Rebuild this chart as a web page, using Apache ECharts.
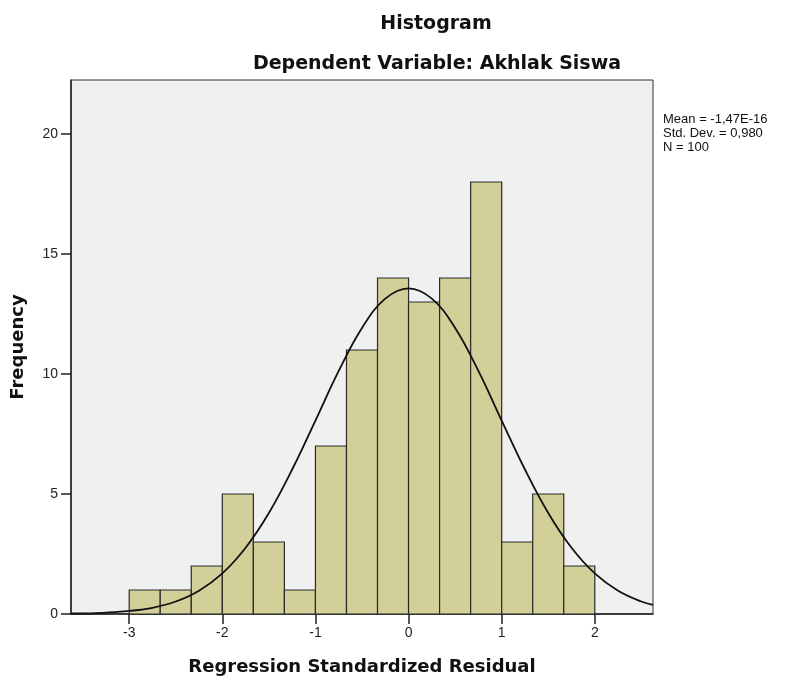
<!DOCTYPE html>
<html>
<head>
<meta charset="utf-8">
<script src="https://cdn.jsdelivr.net/npm/echarts@6/dist/echarts.min.js"></script>
<style>
  html, body { margin: 0; padding: 0; background: #fff; }
  #chart { width: 787px; height: 684px; }
</style>
</head>
<body>
<div id="chart"></div>
<script>
// histogram bins (width 1/3) and counts
var binStarts = [-3, -2.6667, -2.3333, -2, -1.6667, -1.3333, -1, -0.6667, -0.3333, 0, 0.3333, 0.6667, 1, 1.3333, 1.6667];
var binEnds = [-2.6667, -2.3333, -2, -1.6667, -1.3333, -1, -0.6667, -0.3333, 0, 0.3333, 0.6667, 1, 1.3333, 1.6667, 2];
var counts = [1, 1, 2, 5, 3, 1, 7, 11, 14, 13, 14, 18, 3, 5, 2];

// normal curve
var curveX = [-3.625, -3.5, -3.25, -3, -2.75, -2.5, -2.25, -2, -1.75, -1.5, -1.25, -1, -0.75, -0.5, -0.25, 0,
              0.25, 0.5, 0.75, 1, 1.25, 1.5, 1.75, 2, 2.25, 2.5, 2.625];
var curveY = [0.02, 0.02, 0.06, 0.13, 0.26, 0.52, 0.97, 1.69, 2.76, 4.21, 6.02, 8.06, 10.13, 11.92, 13.14, 13.57,
              13.14, 11.92, 10.13, 8.06, 6.02, 4.21, 2.76, 1.69, 0.97, 0.52, 0.38];

var xTicks = [-3, -2, -1, 0, 1, 2];
var yTicks = [0, 5, 10, 15, 20];
var statLines = ['Mean = -1,47E-16', 'Std. Dev. = 0,980', 'N = 100'];

var myChart = echarts.init(document.getElementById('chart'));

var barData = binStarts.map(function (s, i) { return [s, binEnds[i], counts[i]]; });
var curveData = curveX.map(function (x, i) { return [x, curveY[i]]; });

var boldFont = '"DejaVu Sans", Verdana, sans-serif';
var font = 'Arial, "Liberation Sans", sans-serif';

var option = {
    animation: false,
    textStyle: { fontFamily: font },
    title: [
        { text: 'Histogram', left: 431, top: 10, textAlign: 'center',
          textStyle: { fontSize: 19, fontWeight: 'bold', color: '#111', fontFamily: boldFont } },
        { text: 'Dependent Variable: Akhlak Siswa', left: 432, top: 50, textAlign: 'center',
          textStyle: { fontSize: 19, fontWeight: 'bold', color: '#111', fontFamily: boldFont } }
    ],
    graphic: [{
        type: 'text',
        left: 663,
        top: 112,
        style: {
            text: statLines.join('\n'),
            font: '13px ' + font,
            fill: '#111',
            lineHeight: 14
        }
    }],
    grid: {
        left: 71, right: 134, top: 80, bottom: 70,
        show: true,
        backgroundColor: '#f0f0f0',
        borderColor: '#333',
        borderWidth: 1
    },
    xAxis: {
        type: 'value',
        min: -3.625,
        max: 2.625,
        name: 'Regression Standardized Residual',
        nameLocation: 'middle',
        nameGap: 44,
        nameTextStyle: { fontSize: 18, fontWeight: 'bold', color: '#111', fontFamily: boldFont },
        axisLine: { show: true, onZero: false, lineStyle: { color: '#222', width: 1.5 } },
        axisTick: { show: true, length: 10, lineStyle: { color: '#222', width: 1.5 }, customValues: xTicks },
        axisLabel: { color: '#222', fontSize: 14, margin: 12, customValues: xTicks },
        splitLine: { show: false }
    },
    yAxis: {
        type: 'value',
        min: 0,
        max: 22.25,
        name: 'Frequency',
        nameLocation: 'middle',
        nameGap: 44,
        nameTextStyle: { fontSize: 18, fontWeight: 'bold', color: '#111', fontFamily: boldFont },
        axisLine: { show: true, onZero: false, lineStyle: { color: '#222', width: 1.5 } },
        axisTick: { show: true, length: 10, lineStyle: { color: '#222', width: 1.5 }, customValues: yTicks },
        axisLabel: { color: '#222', fontSize: 14, margin: 13, customValues: yTicks },
        splitLine: { show: false }
    },
    series: [
        {
            type: 'custom',
            data: barData,
            encode: { x: [0, 1], y: 2 },
            renderItem: function (params, api) {
                var p0 = api.coord([api.value(0), 0]);
                var p1 = api.coord([api.value(1), api.value(2)]);
                return {
                    type: 'rect',
                    shape: { x: p0[0], y: p1[1], width: p1[0] - p0[0], height: p0[1] - p1[1] },
                    style: { fill: '#d3cf99', stroke: '#2a2a2a', lineWidth: 1.2 }
                };
            },
            z: 2
        },
        {
            type: 'line',
            data: curveData,
            smooth: 0.4,
            showSymbol: false,
            lineStyle: { color: '#111', width: 1.8 },
            z: 3
        }
    ]
};

myChart.setOption(option);

window.addEventListener('resize', function () {
    myChart.resize();
});
</script>
</body>
</html>
